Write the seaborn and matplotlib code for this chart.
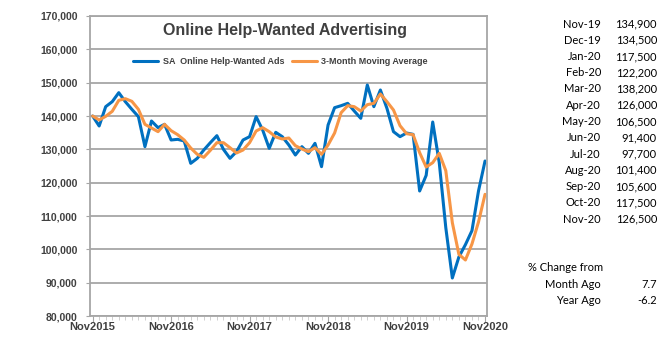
import matplotlib
matplotlib.use("Agg")
import matplotlib.pyplot as plt
import matplotlib.ticker as mticker
import pandas as pd
import seaborn as sns

# monthly series, Nov 2015 - Nov 2020
months = pd.date_range("2015-11-01", periods=61, freq="MS")

# SA online help-wanted ads
ads = [140000, 137000, 142800, 144300, 147000, 144300, 142000, 139800, 130800, 138500,
       136500, 137500, 132800, 133000, 132500, 125800, 127300, 129800, 132000, 134100,
       130000, 127300, 129300, 132800, 133800, 139800, 135800, 130300, 135100, 133800,
       131300, 128300, 130800, 128800, 131800, 124800, 137300, 142500, 143100, 143800,
       141500, 139300, 149300, 142800, 147800, 142300, 135300, 133800, 134900, 134500,
       117500, 122200, 138200, 126000, 106500, 91400, 97700, 101400, 105600, 117500,
       126500]

# 3-month moving average
avg3 = [140000, 138800, 139900, 141400, 144700, 145200, 144400, 142000, 137500, 136400,
        135300, 137500, 135600, 134400, 132800, 130400, 128500, 127600, 129700, 132000,
        132000, 130500, 128900, 129800, 132000, 135500, 136500, 135300, 133700, 133100,
        133400, 131100, 130100, 129300, 130500, 128500, 131300, 134900, 141000, 143100,
        142800, 141500, 143400, 143800, 146600, 144300, 141800, 137100, 134700, 134400,
        129000, 124700, 126000, 128800, 123600, 108000, 98500, 96800, 101600, 108200,
        116500]

table_labels = ["Nov-19", "Dec-19", "Jan-20", "Feb-20", "Mar-20", "Apr-20", "May-20",
                "Jun-20", "Jul-20", "Aug-20", "Sep-20", "Oct-20", "Nov-20"]
change_labels = ["Month Ago", "Year Ago"]
change_values = ["7.7", "-6.2"]

df = pd.DataFrame({"i": range(len(months)), "ads": ads, "avg": avg3})

sns.set_style("white")
plt.rcParams["font.family"] = ["Liberation Sans", "DejaVu Sans"]

fig = plt.figure(figsize=(6.62, 3.57), dpi=100)
ax = fig.add_axes([90 / 662, 41 / 357, 397 / 662, 300 / 357])

grey = "#A6A6A6"
sns.lineplot(data=df, x="i", y="ads", ax=ax, color="#0070C0", linewidth=2.2,
             label="SA  Online Help-Wanted Ads")
sns.lineplot(data=df, x="i", y="avg", ax=ax, color="#F79646", linewidth=2.2,
             label="3-Month Moving Average")

ax.set_xlim(-0.4, 60.3)
ax.set_ylim(80000, 170000)
ax.set_xlabel("")
ax.set_ylabel("")

# y axis
ax.yaxis.set_major_locator(mticker.MultipleLocator(10000))
ax.yaxis.set_major_formatter(mticker.FuncFormatter(lambda v, p: f"{int(v):,}"))
ax.grid(axis="y", color=grey, linewidth=1.3)
ax.set_axisbelow(True)

# x axis: label every November, small tick every month
ax.set_xticks(range(0, 61, 12))
ax.set_xticklabels([f"Nov{d.year}" for d in months[::12]])
ax.set_xticks(range(61), minor=True)
ax.tick_params(axis="x", which="major", length=4, color=grey, pad=0, labelsize=8,
               labelcolor="#404040", bottom=True)
ax.tick_params(axis="x", which="minor", length=3, color="#C8C8C8", bottom=True)
ax.tick_params(axis="y", length=3, color=grey, pad=6, labelsize=7.5, labelcolor="#404040",
               left=True)
for lab in ax.get_xticklabels() + ax.get_yticklabels():
    lab.set_fontweight("bold")

for s in ax.spines.values():
    s.set_color(grey)
    s.set_linewidth(1.3)

ax.text(0.49, 0.953, "Online Help-Wanted Advertising", transform=ax.transAxes,
        ha="center", va="center", fontsize=11.5, fontweight="bold", color="#404040")
leg = ax.legend(loc="center", bbox_to_anchor=(0.48, 0.847), ncol=2, frameon=False,
                fontsize=6.5, handlelength=2.8, columnspacing=0.8, handletextpad=0.5)
for t in leg.get_texts():
    t.set_fontweight("bold")
    t.set_color("#404040")

# table on the right
tfont = dict(fontsize=8, family=["Lato", "DejaVu Sans"], color="black", va="center")
for k, (lab, val) in enumerate(zip(table_labels, ads[-13:])):
    y = 1 - (24 + k * 16.25) / 357
    fig.text(601 / 662, y, lab, ha="right", **tfont)
    fig.text(657 / 662, y, f"{val:,}", ha="right", **tfont)

fig.text(528 / 662, 1 - 267.5 / 357, "% Change from", ha="left", **tfont)
for k, (lab, val) in enumerate(zip(change_labels, change_values)):
    y = 1 - (284 + k * 16) / 357
    fig.text(601 / 662, y, lab, ha="right", **tfont)
    fig.text(657 / 662, y, val, ha="right", **tfont)

fig.savefig("out.png", dpi=100)
